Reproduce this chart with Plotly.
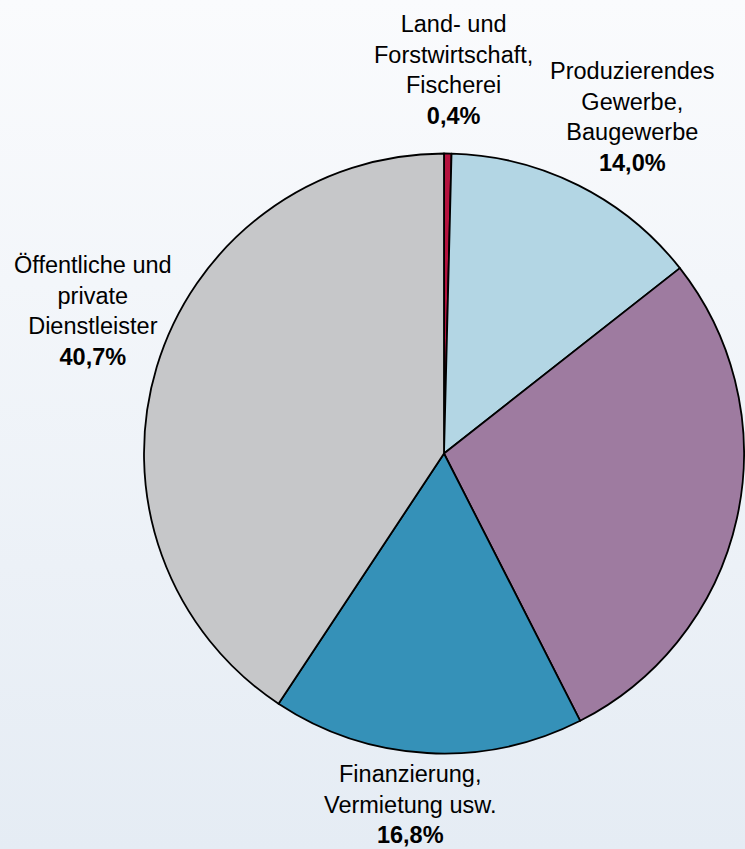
import base64
import plotly.graph_objects as go

# ---- data ----
labels = [
    "Land- und<br>Forstwirtschaft,<br>Fischerei",
    "Produzierendes<br>Gewerbe,<br>Baugewerbe",
    "Handel, Gastgewerbe<br>und Verkehr",
    "Finanzierung,<br>Vermietung usw.",
    "Öffentliche und<br>private<br>Dienstleister",
]
values = [0.4, 14.0, 28.1, 16.8, 40.7]
colors = ["#b5123e", "#b3d6e4", "#9e7ba0", "#3591b8", "#c6c7c9"]

W, H = 745, 849

# label block centres in pixels (layout only); None = off-canvas
label_pos = [(453, 70), (632, 117), (None, None), (410, 804), (93, 311)]

# gradient background
svg = (
    f'<svg xmlns="http://www.w3.org/2000/svg" width="{W}" height="{H}" preserveAspectRatio="none">'
    '<defs><linearGradient id="g" x1="0" y1="0" x2="0" y2="1">'
    '<stop offset="0" stop-color="#fafbfd"/>'
    '<stop offset="1" stop-color="#e5ecf4"/>'
    '</linearGradient></defs>'
    f'<rect width="{W}" height="{H}" fill="url(#g)"/></svg>'
)
src = "data:image/svg+xml;base64," + base64.b64encode(svg.encode()).decode()

cx, cy, r = 444, 453.5, 300
fig = go.Figure(
    go.Pie(
        labels=labels,
        values=values,
        sort=False,
        direction="clockwise",
        rotation=0,
        marker=dict(colors=colors, line=dict(color="#000000", width=1.8)),
        textinfo="none",
        hoverinfo="label+percent",
        domain=dict(
            x=[(cx - r) / W, (cx + r) / W],
            y=[1 - (cy + r) / H, 1 - (cy - r) / H],
        ),
        showlegend=False,
    )
)

annotations = []
for lab, val, (px, py) in zip(labels, values, label_pos):
    if px is None:
        continue
    pct = f"{val:.1f}".replace(".", ",")
    txt = f"{lab}<br><b>{pct}%</b>"
    annotations.append(
        dict(
            x=px / W, y=1 - py / H, xref="paper", yref="paper",
            text=txt, showarrow=False, xanchor="center", yanchor="middle",
            align="center",
            font=dict(family="Liberation Sans, Arial, sans-serif", size=23.5, color="#000000"),
        )
    )

fig.update_layout(
    width=W, height=H,
    margin=dict(l=0, r=0, t=0, b=0),
    paper_bgcolor="#f1f5f9",
    plot_bgcolor="rgba(0,0,0,0)",
    annotations=annotations,
    images=[dict(source=src, xref="paper", yref="paper", x=0, y=1,
                 sizex=1, sizey=1, xanchor="left", yanchor="top",
                 sizing="stretch", layer="below")],
)

fig.write_html(
    "out.html",
    config={"displayModeBar": False},
    post_script="document.body.style.margin='0';document.body.style.overflow='hidden';",
)
